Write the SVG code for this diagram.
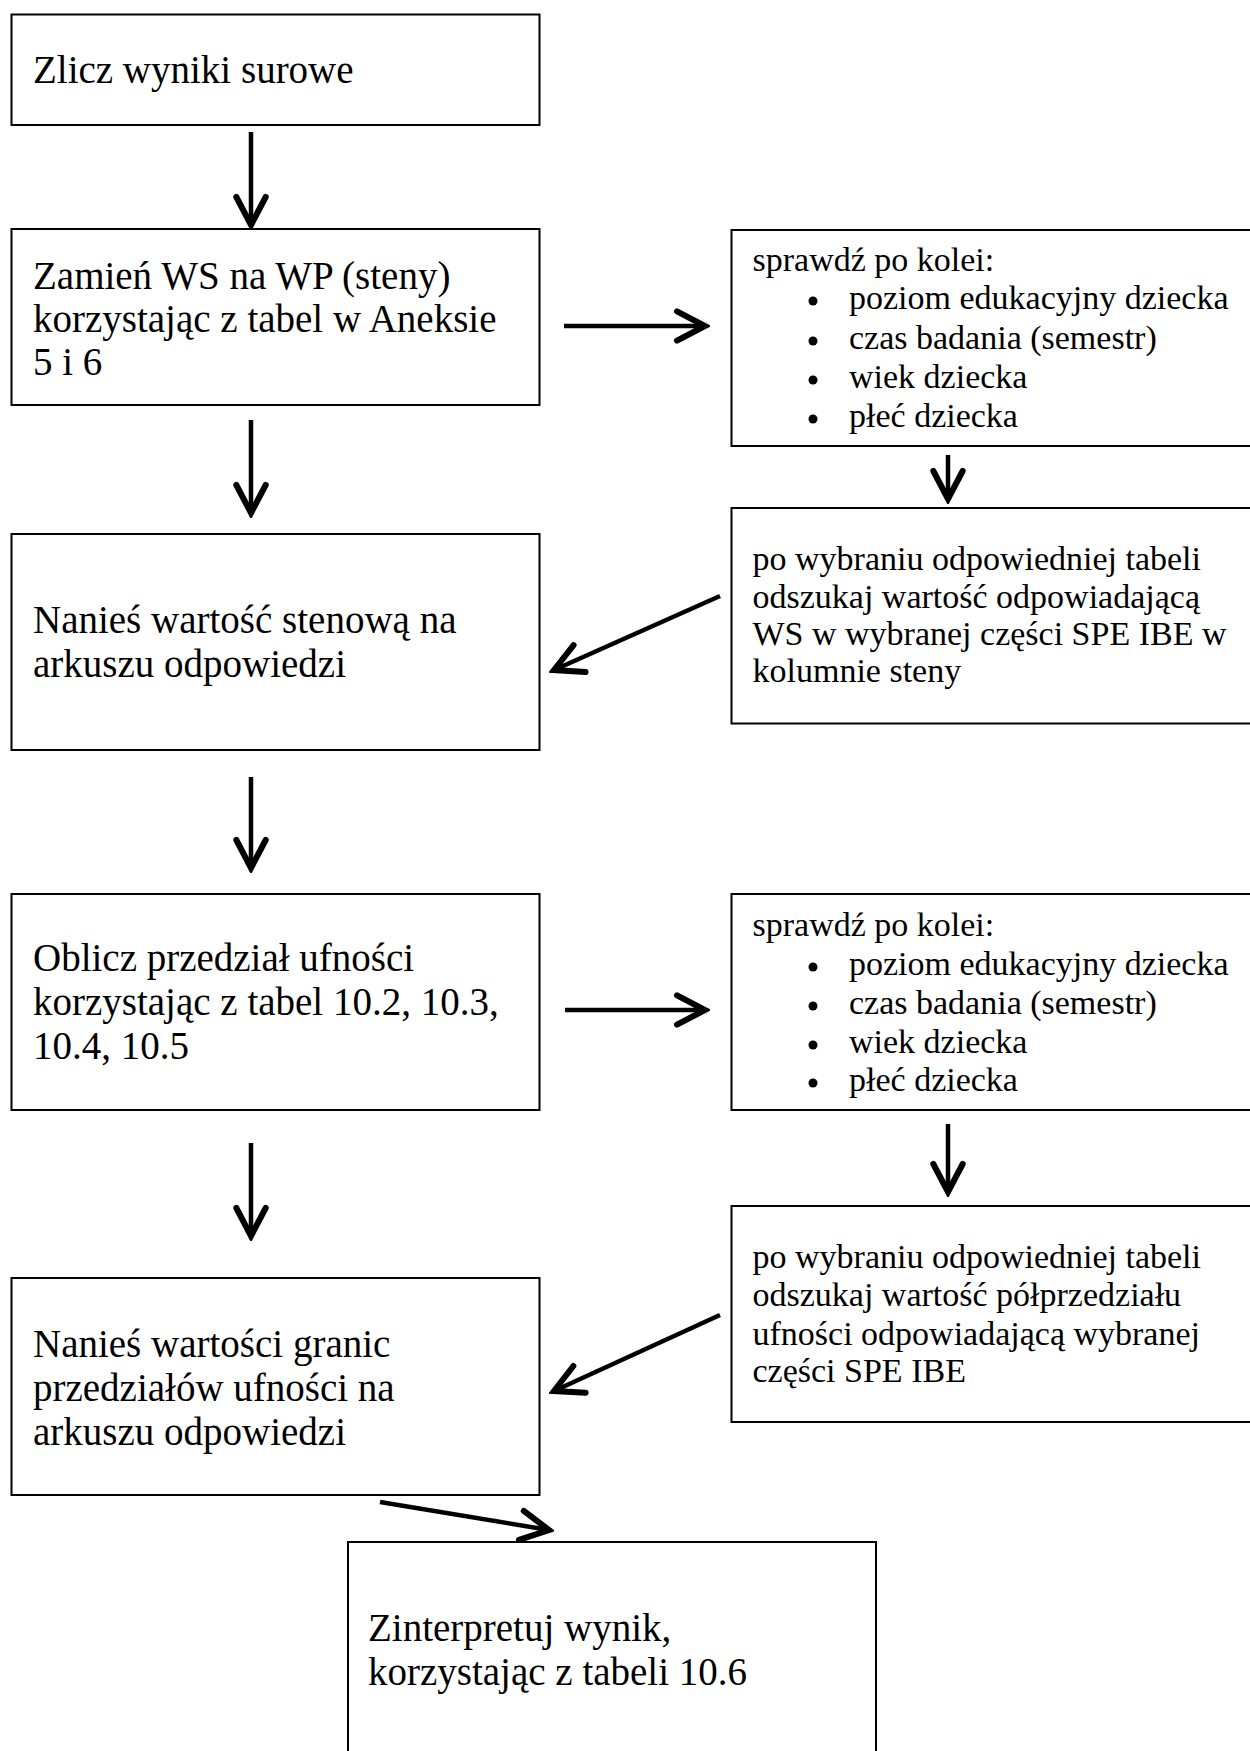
<svg xmlns="http://www.w3.org/2000/svg" width="1250" height="1751" viewBox="0 0 1250 1751">
<style>
.box{fill:#fff;stroke:#000;stroke-width:2}
.big{font-family:"Liberation Serif","Times New Roman",serif;font-size:39px;fill:#000}
.small{font-family:"Liberation Serif","Times New Roman",serif;font-size:34px;fill:#000}
.conn{stroke:#000;stroke-width:4.5;fill:none}
.bul{fill:#000}
</style>
<defs>
<marker id="ah" markerUnits="userSpaceOnUse" markerWidth="40" markerHeight="40" viewBox="-26 -15 30 30" refX="0" refY="0" orient="auto">
<path d="M-21,-11 L0,0 L-21,11" fill="none" stroke="#000" stroke-width="4.5" stroke-linecap="round" stroke-linejoin="miter"/>
</marker>
</defs>
<rect width="1250" height="1751" fill="#fff"/>
<g id="connectors">
<line class="conn" x1="251" y1="132" x2="251" y2="225" marker-end="url(#ah)"/>
<line class="conn" x1="251" y1="420" x2="251" y2="513" marker-end="url(#ah)"/>
<line class="conn" x1="251" y1="777" x2="251" y2="868" marker-end="url(#ah)"/>
<line class="conn" x1="251" y1="1143" x2="251" y2="1236" marker-end="url(#ah)"/>
<line class="conn" x1="564" y1="326" x2="705" y2="326" marker-end="url(#ah)"/>
<line class="conn" x1="565" y1="1010" x2="705" y2="1010" marker-end="url(#ah)"/>
<line class="conn" x1="948" y1="455" x2="948" y2="499" marker-end="url(#ah)"/>
<line class="conn" x1="948" y1="1124" x2="948" y2="1192" marker-end="url(#ah)"/>
<line class="conn" x1="720" y1="596" x2="554" y2="670" marker-end="url(#ah)"/>
<line class="conn" x1="720" y1="1315" x2="554" y2="1391" marker-end="url(#ah)"/>
<line class="conn" x1="380" y1="1502" x2="549" y2="1530" marker-end="url(#ah)"/>
</g>
<g id="n1">
<rect class="box" x="11.5" y="14.5" width="528" height="110.5"/>
<text class="big" x="33" y="83">Zlicz wyniki surowe</text>
</g>
<g id="n2">
<rect class="box" x="11.5" y="229" width="528" height="176"/>
<text class="big" x="33" y="289">Zamień WS na WP (steny)</text>
<text class="big" x="33" y="332">korzystając z tabel w Aneksie</text>
<text class="big" x="33" y="375">5 i 6</text>
</g>
<g id="n3">
<rect class="box" x="11.5" y="534" width="528" height="216"/>
<text class="big" x="33" y="633">Nanieś wartość stenową na</text>
<text class="big" x="33" y="677">arkuszu odpowiedzi</text>
</g>
<g id="n4">
<rect class="box" x="11.5" y="894" width="528" height="216"/>
<text class="big" x="33" y="971">Oblicz przedział ufności</text>
<text class="big" x="33" y="1015">korzystając z tabel 10.2, 10.3,</text>
<text class="big" x="33" y="1059">10.4, 10.5</text>
</g>
<g id="n5">
<rect class="box" x="11.5" y="1278" width="528" height="217"/>
<text class="big" x="33" y="1357">Nanieś wartości granic</text>
<text class="big" x="33" y="1401">przedziałów ufności na</text>
<text class="big" x="33" y="1445">arkuszu odpowiedzi</text>
</g>
<g id="n6">
<rect class="box" x="348" y="1542" width="528" height="230"/>
<text class="big" x="368" y="1641">Zinterpretuj wynik,</text>
<text class="big" x="368" y="1685">korzystając z tabeli 10.6</text>
</g>
<g id="nA">
<rect class="box" x="731.5" y="230" width="540" height="216"/>
<text class="small" x="752.5" y="271">sprawdź po kolei:</text>
<circle class="bul" cx="813" cy="301" r="4.5"/>
<circle class="bul" cx="813" cy="341" r="4.5"/>
<circle class="bul" cx="813" cy="380" r="4.5"/>
<circle class="bul" cx="813" cy="419" r="4.5"/>
<text class="small" x="849" y="309">poziom edukacyjny dziecka</text>
<text class="small" x="849" y="349">czas badania (semestr)</text>
<text class="small" x="849" y="388">wiek dziecka</text>
<text class="small" x="849" y="427">płeć dziecka</text>
</g>
<g id="nB">
<rect class="box" x="731.5" y="508" width="540" height="215.5"/>
<text class="small" x="752.5" y="570">po wybraniu odpowiedniej tabeli</text>
<text class="small" x="752.5" y="608">odszukaj wartość odpowiadającą</text>
<text class="small" x="752.5" y="645">WS w wybranej części SPE IBE w</text>
<text class="small" x="752.5" y="682">kolumnie steny</text>
</g>
<g id="nC">
<rect class="box" x="731.5" y="894" width="540" height="216"/>
<text class="small" x="752.5" y="936">sprawdź po kolei:</text>
<circle class="bul" cx="813" cy="967" r="4.5"/>
<circle class="bul" cx="813" cy="1006" r="4.5"/>
<circle class="bul" cx="813" cy="1045" r="4.5"/>
<circle class="bul" cx="813" cy="1083" r="4.5"/>
<text class="small" x="849" y="975">poziom edukacyjny dziecka</text>
<text class="small" x="849" y="1014">czas badania (semestr)</text>
<text class="small" x="849" y="1053">wiek dziecka</text>
<text class="small" x="849" y="1091">płeć dziecka</text>
</g>
<g id="nD">
<rect class="box" x="731.5" y="1206" width="540" height="216"/>
<text class="small" x="752.5" y="1268">po wybraniu odpowiedniej tabeli</text>
<text class="small" x="752.5" y="1306">odszukaj wartość półprzedziału</text>
<text class="small" x="752.5" y="1345">ufności odpowiadającą wybranej</text>
<text class="small" x="752.5" y="1382">części SPE IBE</text>
</g>
</svg>
